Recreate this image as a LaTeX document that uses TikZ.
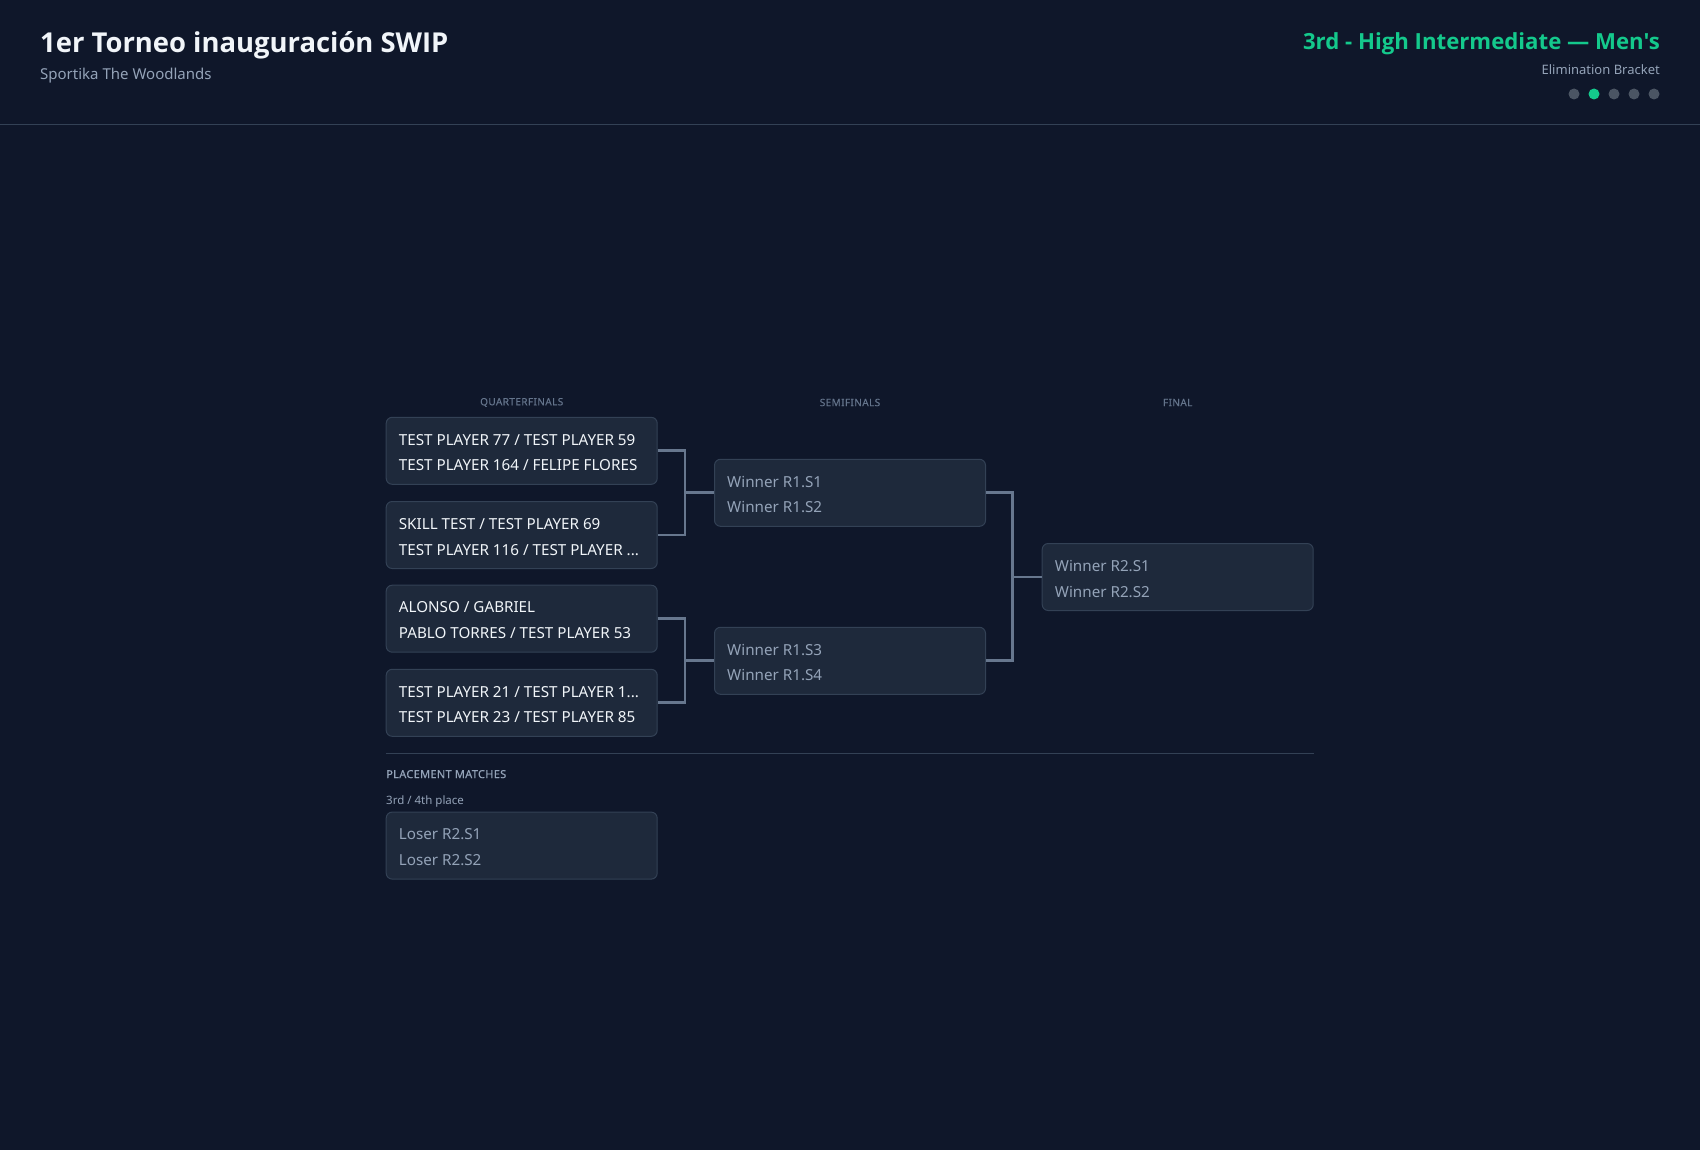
\documentclass[tikz,border=0pt]{standalone}
\usepackage{fontspec}
\setmainfont{Noto Sans}
\newfontfamily\headfont{Open Sans}
\definecolor{bg}{HTML}{0F172A}
\definecolor{boxfill}{HTML}{1E293B}
\definecolor{boxline}{HTML}{334155}
\definecolor{connc}{HTML}{67778E}
\definecolor{txtw}{HTML}{F1F5F9}
\definecolor{txtg}{HTML}{94A3B8}
\definecolor{txtd}{HTML}{64748B}
\definecolor{accent}{HTML}{14C98C}
\definecolor{dotc}{HTML}{4B5563}
\tikzset{
  match/.style={draw=boxline, fill=boxfill, line width=1pt, rounded corners=6pt,
    minimum width=271pt, minimum height=67pt, inner sep=0pt},
  pl/.style={anchor=west, inner sep=0pt, text height=0.714em, text depth=0pt,
    font=\fontsize{15.2}{15}\selectfont, text=txtw},
  tbd/.style={pl, text=txtg},
  colhead/.style={inner sep=0pt, font=\fontsize{10}{10}\selectfont\addfontfeatures{LetterSpace=4,FakeBold=0.4}, text=txtd},
  conn/.style={draw=connc, line width=2.8pt, line join=miter},
  dotn/.style={circle, fill=dotc, minimum size=11pt, inner sep=0pt},
}
\begin{document}
\begin{tikzpicture}[x=1pt,y=-1pt]
\fill[bg] (0,0) rectangle (1700,1150);
\useasboundingbox (0,0) rectangle (1700,1150);
% header
\node[anchor=base west, inner sep=0pt, font=\headfont\bfseries\fontsize{27.4}{30}\selectfont, text=txtw] (title) at (40,53) {1er Torneo inauguración SWIP};
\node[anchor=base west, inner sep=0pt, font=\fontsize{15}{16}\selectfont, text=txtg] (venue) at (40,80) {Sportika The Woodlands};
\node[anchor=base east, inner sep=0pt, font=\headfont\bfseries\fontsize{22.2}{26}\selectfont, text=accent] (cat) at (1660,50) {3rd - High Intermediate — Men's};
\node[anchor=base east, inner sep=0pt, font=\fontsize{13}{14}\selectfont, text=txtg] (kind) at (1660,75) {Elimination Bracket};
\node[dotn] (d1) at (1574,94) {};
\node[dotn, fill=accent] (d2) at (1594,94) {};
\node[dotn] (d3) at (1614,94) {};
\node[dotn] (d4) at (1634,94) {};
\node[dotn] (d5) at (1654,94) {};
\draw[boxline, line width=1pt] (0,124.5) -- (1700,124.5);
% column headings
\node[colhead] (h1) at (521.7,402.5) {QUARTERFINALS};
\node[colhead] (h2) at (850,402.5) {SEMIFINALS};
\node[colhead] (h3) at (1177.7,402.5) {FINAL};
% quarterfinals
\node[match] (q1) at (521.7,450.8) {};
\node[match] (q2) at (521.7,535) {};
\node[match] (q3) at (521.7,618.7) {};
\node[match] (q4) at (521.7,702.8) {};
% semifinals
\node[match] (s1) at (850,492.8) {};
\node[match] (s2) at (850,660.8) {};
% final
\node[match] (f1) at (1177.7,577) {};
% placement
\node[match] (p1) at (521.7,845.6) {};
% texts
\node[pl] (q1a) at ([xshift=13pt,yshift=9.3pt]q1.west) {TEST PLAYER 77 / TEST PLAYER 59};
\node[pl] (q1b) at ([xshift=13pt,yshift=-16.5pt]q1.west) {TEST PLAYER 164 / FELIPE FLORES};
\node[pl] (q2a) at ([xshift=13pt,yshift=9.3pt]q2.west) {SKILL TEST / TEST PLAYER 69};
\node[pl] (q2b) at ([xshift=13pt,yshift=-16.5pt]q2.west) {TEST PLAYER 116 / TEST PLAYER ...};
\node[pl] (q3a) at ([xshift=13pt,yshift=9.3pt]q3.west) {ALONSO / GABRIEL};
\node[pl] (q3b) at ([xshift=13pt,yshift=-16.5pt]q3.west) {PABLO TORRES / TEST PLAYER 53};
\node[pl] (q4a) at ([xshift=13pt,yshift=9.3pt]q4.west) {TEST PLAYER 21 / TEST PLAYER 1...};
\node[pl] (q4b) at ([xshift=13pt,yshift=-16.5pt]q4.west) {TEST PLAYER 23 / TEST PLAYER 85};
\node[tbd] (s1a) at ([xshift=13pt,yshift=9.3pt]s1.west) {Winner R1.S1};
\node[tbd] (s1b) at ([xshift=13pt,yshift=-16.5pt]s1.west) {Winner R1.S2};
\node[tbd] (s2a) at ([xshift=13pt,yshift=9.3pt]s2.west) {Winner R1.S3};
\node[tbd] (s2b) at ([xshift=13pt,yshift=-16.5pt]s2.west) {Winner R1.S4};
\node[tbd] (f1a) at ([xshift=13pt,yshift=9.3pt]f1.west) {Winner R2.S1};
\node[tbd] (f1b) at ([xshift=13pt,yshift=-16.5pt]f1.west) {Winner R2.S2};
\node[tbd] (p1a) at ([xshift=13pt,yshift=9.3pt]p1.west) {Loser R2.S1};
\node[tbd] (p1b) at ([xshift=13pt,yshift=-16.5pt]p1.west) {Loser R2.S2};
% connectors
\coordinate (j1) at (685,492.8);
\coordinate (j2) at (685,660.8);
\coordinate (j3) at (1012.5,577);
\draw[conn] (q1.east) -| (j1) |- (q2.east);
\draw[conn] (j1) -- (s1.west);
\draw[conn] (q3.east) -| (j2) |- (q4.east);
\draw[conn] (j2) -- (s2.west);
\draw[conn] (s1.east) -| (j3) |- (s2.east);
\draw[conn] (j3) -- (f1.west);
% placement section
\draw[boxline, line width=1pt] (386,753.5) -- (1313.5,753.5);
\node[anchor=west, inner sep=0pt, text height=0.714em, text depth=0pt, font=\fontsize{11}{12}\selectfont\addfontfeatures{LetterSpace=3,FakeBold=0.5}, text=txtg] (plh) at (386,774.5) {PLACEMENT MATCHES};
\node[anchor=west, inner sep=0pt, text height=0.714em, text depth=0pt, font=\fontsize{11.5}{12}\selectfont, text=txtg] (plsub) at (386,800.5) {3rd / 4th place};
\end{tikzpicture}
\end{document}
